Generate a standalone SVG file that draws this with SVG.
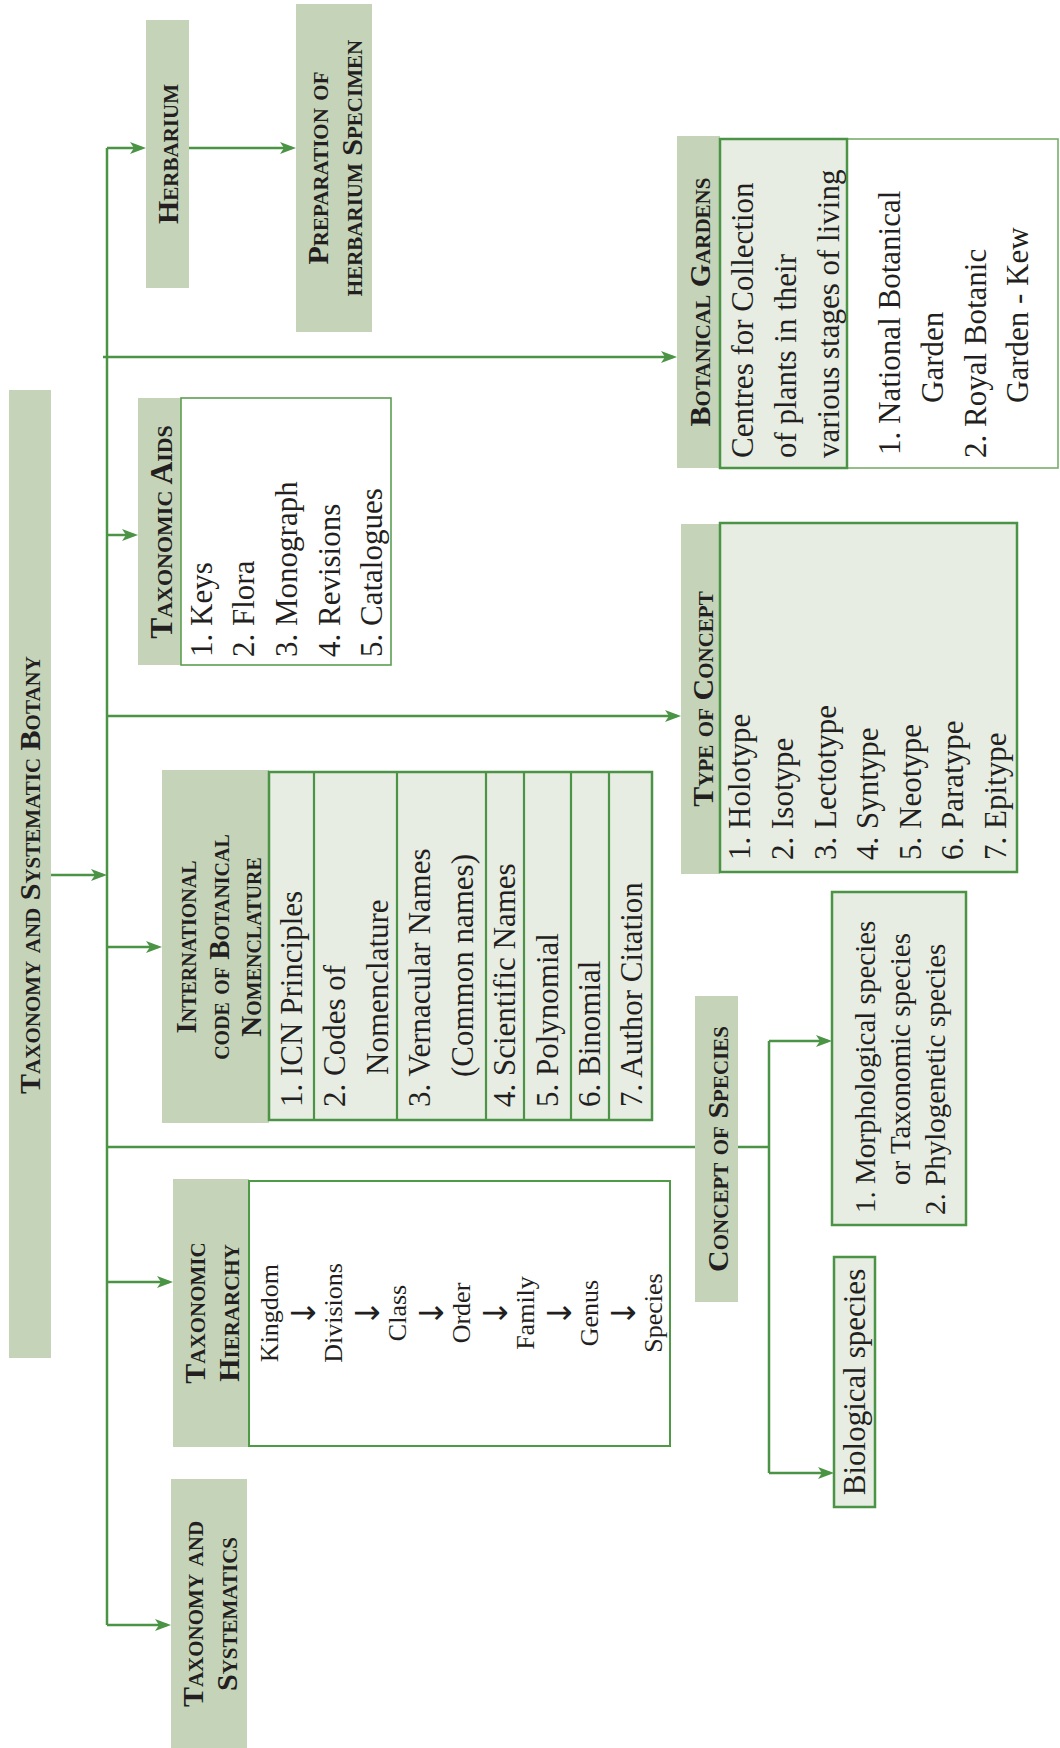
<svg xmlns="http://www.w3.org/2000/svg" width="1060" height="1748" viewBox="0 0 1060 1748">
<style>
.hdr{fill:#c5d4b9}
.box{fill:#e7ede2;stroke:#4b9445;stroke-width:2.5}
.wbox{fill:#ffffff;stroke:#5c9e52;stroke-width:1.6}
.sep{stroke:#4b9445;stroke-width:2.2}
.h{font-family:"Liberation Serif","Times New Roman",serif;font-weight:bold;font-variant:small-caps;font-size:30px;fill:#231f20;text-anchor:middle}
.t{font-family:"Liberation Serif","Times New Roman",serif;font-size:31px;fill:#231f20}
.s{font-family:"Liberation Serif","Times New Roman",serif;font-size:26px;fill:#231f20;text-anchor:middle}
.ar{font-family:"DejaVu Sans",sans-serif;font-size:33px;fill:#231f20;text-anchor:middle}
.c{fill:none;stroke:#4b9445;stroke-width:2.5}
.a{fill:none;stroke:#4b9445;stroke-width:2.5;marker-end:url(#ah)}
</style>
<defs>
<marker id="ah" viewBox="0 0 16 12" markerWidth="16" markerHeight="12" refX="12" refY="6" orient="auto" markerUnits="userSpaceOnUse">
<path d="M0,0 L16,6 L0,12 L4,6 Z" fill="#4b9445"/>
</marker>
</defs>
<rect x="0" y="0" width="1060" height="1748" fill="#ffffff"/>
<g transform="translate(0,1748) rotate(-90)">
<g id="connectors">
<line class="a" x1="873" y1="51" x2="873" y2="103"/>
<path class="c" d="M1600,107 L123,107"/>
<line class="a" x1="1600" y1="107" x2="1600" y2="142"/>
<line class="a" x1="1600" y1="189" x2="1600" y2="292"/>
<line class="a" x1="1391" y1="103" x2="1391" y2="673"/>
<line class="a" x1="1213" y1="107" x2="1213" y2="134"/>
<line class="a" x1="1032" y1="107" x2="1032" y2="677"/>
<line class="a" x1="801" y1="107" x2="801" y2="158"/>
<line class="c" x1="601" y1="107" x2="601" y2="695"/>
<path class="c" d="M601,738 L601,769 M707,769 L275,769"/>
<line class="a" x1="707" y1="769" x2="707" y2="828"/>
<line class="a" x1="275" y1="769" x2="275" y2="830"/>
<line class="a" x1="466" y1="107" x2="466" y2="169"/>
<line class="a" x1="123" y1="107" x2="123" y2="167"/>
</g>
<g id="main">
<rect class="hdr" x="390" y="9" width="968" height="42"/>
<text class="h" x="873" y="40">Taxonomy and Systematic Botany</text>
</g>
<g id="herbarium">
<rect class="hdr" x="1460" y="146" width="268" height="43"/>
<text class="h" x="1594" y="178">Herbarium</text>
</g>
<g id="preparation">
<rect class="hdr" x="1416" y="296" width="328" height="76"/>
<text class="h" x="1580" y="328">Preparation of</text>
<text class="h" x="1580" y="362">herbarium Specimen</text>
</g>
<g id="botanical-gardens">
<rect class="hdr" x="1280" y="677" width="332" height="43"/>
<text class="h" x="1446" y="710">Botanical Gardens</text>
<rect class="wbox" x="1280" y="847" width="329" height="211" style="stroke:#78ae6c"/>
<rect class="box" x="1280" y="720" width="329" height="127"/>
<text class="t" x="1290" y="753">Centres for Collection</text>
<text class="t" x="1290" y="796">of plants in their</text>
<text class="t" x="1290" y="839">various stages of living</text>
<text class="t" x="1293" y="900">1. National Botanical</text>
<text class="t" x="1345" y="943">Garden</text>
<text class="t" x="1290" y="986">2. Royal Botanic</text>
<text class="t" x="1345" y="1028">Garden - Kew</text>
</g>
<g id="taxonomic-aids">
<rect class="hdr" x="1083" y="138" width="267" height="43"/>
<text class="h" x="1216" y="172" style="font-size:31.5px">Taxonomic Aids</text>
<rect class="wbox" x="1083" y="181" width="267" height="210"/>
<text class="t" x="1091" y="212">1. Keys</text>
<text class="t" x="1091" y="254">2. Flora</text>
<text class="t" x="1091" y="297">3. Monograph</text>
<text class="t" x="1091" y="340">4. Revisions</text>
<text class="t" x="1091" y="382">5. Catalogues</text>
</g>
<g id="type-of-concept">
<rect class="hdr" x="874" y="681" width="350" height="39"/>
<text class="h" x="1049" y="713">Type of Concept</text>
<rect class="box" x="876" y="720" width="349" height="297"/>
<text class="t" x="888" y="750">1. Holotype</text>
<text class="t" x="888" y="793">2. Isotype</text>
<text class="t" x="888" y="836">3. Lectotype</text>
<text class="t" x="888" y="878">4. Syntype</text>
<text class="t" x="888" y="921">5. Neotype</text>
<text class="t" x="888" y="963">6. Paratype</text>
<text class="t" x="888" y="1006">7. Epitype</text>
</g>
<g id="icbn">
<rect class="hdr" x="625" y="162" width="353" height="107"/>
<text class="h" x="801" y="196" style="font-size:29px">International</text>
<text class="h" x="801" y="229" style="font-size:29px">code of Botanical</text>
<text class="h" x="801" y="261" style="font-size:29px">Nomenclature</text>
<rect class="box" x="628" y="269" width="348" height="383"/>
<line class="sep" x1="628" y1="314" x2="976" y2="314"/>
<line class="sep" x1="628" y1="397" x2="976" y2="397"/>
<line class="sep" x1="628" y1="486" x2="976" y2="486"/>
<line class="sep" x1="628" y1="524" x2="976" y2="524"/>
<line class="sep" x1="628" y1="571" x2="976" y2="571"/>
<line class="sep" x1="628" y1="609" x2="976" y2="609"/>
<text class="t" x="641" y="302">1. ICN Principles</text>
<text class="t" x="641" y="345">2. Codes of</text>
<text class="t" x="673" y="388">Nomenclature</text>
<text class="t" x="641" y="430">3. Vernacular Names</text>
<text class="t" x="671" y="473">(Common names)</text>
<text class="t" x="641" y="515">4. Scientific Names</text>
<text class="t" x="641" y="558">5. Polynomial</text>
<text class="t" x="641" y="600">6. Binomial</text>
<text class="t" x="641" y="642">7. Author Citation</text>
</g>
<g id="concept-of-species">
<rect class="hdr" x="446" y="695" width="306" height="43"/>
<text class="h" x="599" y="728">Concept of Species</text>
</g>
<g id="morphological">
<rect class="box" x="523" y="832" width="333" height="134"/>
<text class="t" x="535" y="875" style="font-size:29px">1. Morphological species</text>
<text class="t" x="563" y="910" style="font-size:29px">or Taxonomic species</text>
<text class="t" x="533" y="945" style="font-size:29px">2. Phylogenetic species</text>
</g>
<g id="biological">
<rect class="box" x="241" y="834" width="250" height="41"/>
<text class="t" x="366" y="865" style="text-anchor:middle">Biological species</text>
</g>
<g id="taxonomic-hierarchy">
<rect class="hdr" x="301" y="173" width="268" height="76"/>
<text class="h" x="435" y="205">Taxonomic</text>
<text class="h" x="435" y="239">Hierarchy</text>
<rect class="wbox" x="302" y="249" width="265" height="421" style="stroke:#4f9a45;stroke-width:2"/>
<text class="s" x="435" y="278">Kingdom</text>
<text class="ar" x="435" y="315">↓</text>
<text class="s" x="435" y="342">Divisions</text>
<text class="ar" x="435" y="379">↓</text>
<text class="s" x="435" y="406">Class</text>
<text class="ar" x="435" y="443">↓</text>
<text class="s" x="435" y="470">Order</text>
<text class="ar" x="435" y="507">↓</text>
<text class="s" x="435" y="534">Family</text>
<text class="ar" x="435" y="571">↓</text>
<text class="s" x="435" y="598">Genus</text>
<text class="ar" x="435" y="635">↓</text>
<text class="s" x="435" y="662">Species</text>
</g>
<g id="taxonomy-and-systematics">
<rect class="hdr" x="0" y="171" width="269" height="76"/>
<text class="h" x="134" y="203">Taxonomy and</text>
<text class="h" x="134" y="237">Systematics</text>
</g>
</g>
</svg>
